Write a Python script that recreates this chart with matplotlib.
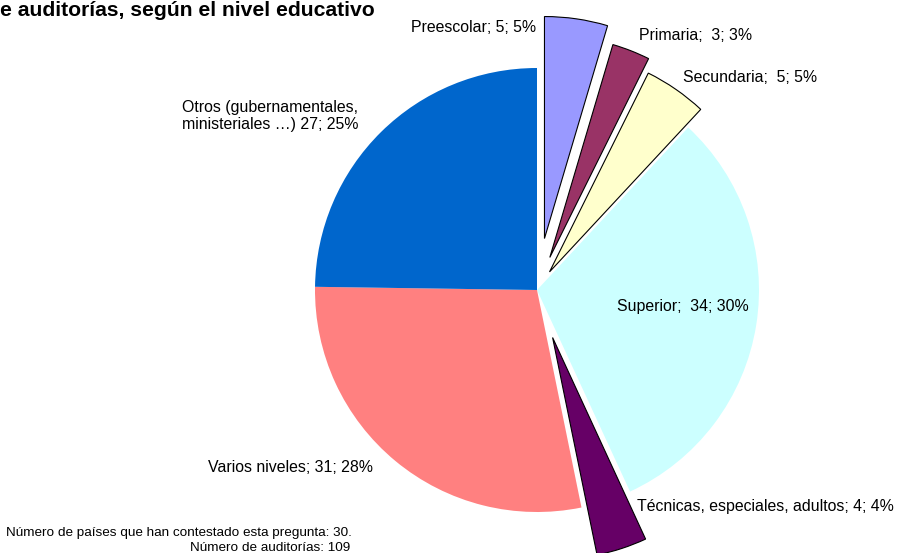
import matplotlib
matplotlib.use("Agg")
import matplotlib.pyplot as plt

# datos
categorias = ["Preescolar", "Primaria", "Secundaria", "Superior",
              "Técnicas, especiales, adultos", "Varios niveles",
              "Otros (gubernamentales, ministeriales …)"]
auditorias = [5, 3, 5, 34, 4, 31, 27]
porcentajes = [5, 3, 5, 30, 4, 28, 25]
colores = ["#9999FF", "#993366", "#FFFFCC", "#CCFFFF",
           "#660066", "#FF8080", "#0066CC"]
etiquetas = ["Preescolar; 5; 5%", "Primaria;  3; 3%", "Secundaria;  5; 5%",
             "Superior;  34; 30%", "Técnicas, especiales, adultos; 4; 4%",
             "Varios niveles; 31; 28%",
             "Otros (gubernamentales,\nministeriales …) 27; 25%"]

W, H = 897, 553
fig = plt.figure(figsize=(W / 100, H / 100), dpi=100)
ax = fig.add_axes([0, 0, 1, 1])

# separacion de las porciones (en pixeles)
separar = [52, 35, 22, 0, 50, 0, 0]
cx, cy, r = 537, H - 290, 222

wedges, _ = ax.pie(auditorias, colors=colores, startangle=90,
                   counterclock=False, radius=r, center=(cx, cy),
                   explode=separar, frame=True)
for w, s in zip(wedges, separar):
    if s > 0:
        w.set_edgecolor("black")
        w.set_linewidth(0.8)
    else:
        w.set_edgecolor("none")

ax.set_xlim(0, W)
ax.set_ylim(0, H)
ax.set_aspect("equal")
ax.axis("off")

fs = 11.4
fam = ["Liberation Sans", "DejaVu Sans"]
# (x, y, ha) de cada etiqueta en pixeles
pos = [(536, 28, "right"), (639, 36, "left"), (683, 77, "left"),
       (617, 306, "left"), (637, 507, "left"), (373, 468, "right"),
       (182, 116, "left")]
for txt, (x, y, ha) in zip(etiquetas, pos):
    ax.text(x, H - y, txt, ha=ha, va="center", fontsize=fs, family=fam,
            linespacing=1.1)

ax.text(0, H - 11, "e auditorías, según el nivel educativo", ha="left",
        va="center", fontsize=15.2, fontweight="bold", family=fam)

narrow = ["Liberation Sans Narrow", "Liberation Sans", "DejaVu Sans"]
ax.text(352, H - 533, "Número de países que han contestado esta pregunta: 30.",
        ha="right", va="center", fontsize=9.7, family=narrow)
ax.text(350, H - 548, "Número de auditorías: 109",
        ha="right", va="center", fontsize=9.7, family=narrow)

fig.savefig("out.png", dpi=100)
